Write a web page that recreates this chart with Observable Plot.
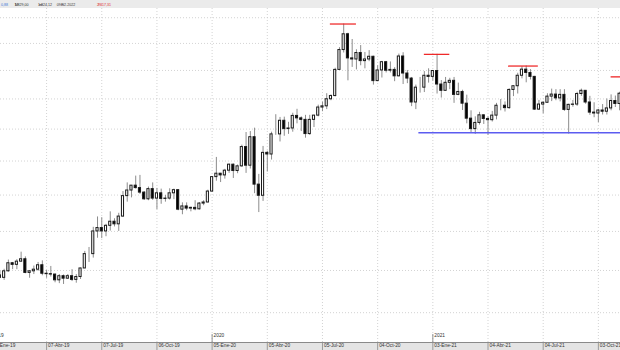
<!DOCTYPE html>
<html><head><meta charset="utf-8">
<script src="https://cdn.jsdelivr.net/npm/d3@7"></script>
<script src="https://cdn.jsdelivr.net/npm/@observablehq/plot@0.6"></script>
<style>html,body{margin:0;padding:0;background:#fff;overflow:hidden}svg{display:block}</style>
</head><body><div id="chart"></div>
<script>
// Weekly bars, first bar closes Friday 2019-01-18
const firstWeek = "2019-01-18";
const open = [1288,1282,1298,1318,1314,1322,1328,1294,1298,1302,1313,1292,1291,1290,1276,1286,1280,1286,1277,1284,
1305,1341,1341,1400,1409,1400,1415,1426,1419,1440,1497,1513,1527,1520,1507,1488,1517,1490,1505,1489,
1490,1505,1514,1459,1468,1462,1464,1460,1476,1479,
1510,1552,1562,1557,1571,1589,1570,1584,1643,1586,1674,1530,1498,1625,1620,1683,1683,1727,1700,1702,
1743,1735,1730,1684,1730,1744,1771,1775,1799,1810,1902,1975,2035,1944,1940,1964,1934,1940,1950,1862,
1900,1930,1899,1902,1879,1951,1889,1871,1788,1839,1839,1881,
1877,1898,1850,1828,1856,1863,1814,1824,1784,1734,1700,1720,1745,1733,1729,1744,1777,1777,1769,1831,
1844,1881,1903,1891,1877,1764,1781,1787,1808,1815,1802,1814,1763,1780,1781,1817,1828,1788,1754,1751,
1761,1757,1768,1793,1783];
const high = [1298,1303,1326,1320,1327,1346,1334,1300,1311,1320,1324,1300,1310,1291,1290,1289,1290,1302,1290,1306,
1348,1358,1411,1439,1437,1419,1453,1434,1449,1510,1535,1527,1555,1557,1510,1523,1535,1519,1517,1499,
1518,1517,1514,1478,1478,1466,1484,1479,1484,1514,
1553,1611,1563,1575,1591,1591,1588,1649,1689,1692,1703,1560,1645,1630,1690,1747,1738,1739,1722,1752,
1765,1740,1745,1745,1745,1779,1789,1818,1814,1908,1984,2075,2039,2015,1976,1992,1966,1973,1952,1917,
1933,1933,1931,1910,1960,1965,1900,1875,1848,1875,1896,1906,
1900,1959,1864,1875,1872,1875,1855,1830,1813,1760,1740,1755,1746,1740,1758,1785,1798,1790,1835,1846,
1890,1913,1916,1903,1879,1795,1790,1818,1834,1832,1832,1832,1782,1795,1823,1834,1829,1809,1787,1765,
1781,1800,1814,1810,1823];
const low = [1280,1276,1296,1302,1302,1320,1292,1281,1290,1298,1287,1281,1284,1270,1268,1266,1278,1273,1269,1278,
1305,1320,1331,1382,1381,1386,1401,1412,1400,1438,1480,1492,1517,1502,1485,1484,1485,1459,1474,1480,
1486,1487,1456,1445,1456,1453,1456,1458,1470,1478,
1508,1540,1536,1546,1563,1548,1562,1581,1563,1576,1504,1451,1482,1567,1603,1680,1659,1677,1683,1690,
1717,1692,1671,1680,1705,1740,1757,1764,1794,1807,1900,1964,1863,1911,1902,1917,1906,1932,1848,1860,
1873,1891,1891,1860,1877,1850,1853,1774,1764,1820,1822,1855,
1862,1817,1803,1826,1832,1785,1811,1761,1717,1687,1683,1713,1715,1680,1723,1730,1760,1756,1765,1808,
1817,1870,1856,1866,1761,1761,1750,1786,1791,1794,1790,1758,1684,1772,1775,1809,1782,1745,1737,1721,
1746,1746,1760,1771,1760];
const close = [1282,1298,1318,1314,1322,1328,1294,1298,1302,1313,1292,1291,1290,1276,1286,1280,1286,1277,1284,1305,
1341,1341,1400,1409,1400,1415,1426,1419,1440,1497,1513,1527,1520,1507,1488,1517,1490,1505,1489,1490,
1505,1514,1459,1468,1462,1464,1460,1476,1479,1510,
1552,1562,1557,1571,1589,1570,1584,1643,1586,1674,1530,1498,1625,1620,1683,1683,1727,1700,1702,1743,
1735,1730,1684,1730,1744,1771,1775,1799,1810,1902,1975,2035,1944,1940,1964,1934,1940,1950,1862,1900,
1930,1899,1902,1879,1951,1889,1871,1788,1839,1839,1881,1877,
1898,1850,1828,1856,1863,1814,1824,1784,1734,1700,1720,1745,1733,1729,1744,1777,1777,1769,1831,1844,
1881,1903,1891,1877,1764,1781,1787,1808,1815,1802,1814,1763,1780,1781,1817,1828,1788,1754,1751,1761,
1757,1768,1793,1783,1818];

// Date axis ticks (quarterly) and labels
const tickDates = ["2019-01-06","2019-04-07","2019-07-07","2019-10-06","2020-01-05","2020-04-05",
                   "2020-07-05","2020-10-04","2021-01-03","2021-04-04","2021-07-04","2021-10-03"];
const tickLabels = ["06-Ene-19","07-Abr-19","07-Jul-19","06-Oct-19","05-Ene-20","05-Abr-20",
                    "05-Jul-20","04-Oct-20","03-Ene-21","04-Abr-21","04-Jul-21","03-Oct-21"];
const yearTicks = ["2019-01-06","2020-01-05","2021-01-03"];
const yearLabels = ["2019","2020","2021"];
const gridPrices = [1200,1300,1400,1500,1600,1700,1800,1900,2000,2100];

// Resistance (red) and support (blue) levels
const resistPrice = [2075,1959,1916,1877];
const resistStart = ["2020-07-18","2020-12-20","2021-05-08","2021-10-24"];
const resistEnd   = ["2020-08-30","2021-01-31","2021-06-26","2021-12-15"];
const supportPrice = [1688];
const supportStart = ["2020-12-11"];
const supportEnd = ["2021-12-15"];

// Header values (status line): label, value, label colour, value colour
const headerLabels = ["A:", "M:", "m:", "F:", "P:"];
const headerValues = ["0,88", "1.829,00", "1.824,12", "09-02-2022", "2.417,31"];
const headerLabelColors = ["#333", "#333", "#333", "#333", "#e03030"];
const headerValueColors = ["#3a78d8", "#333", "#333", "#333", "#e03030"];

const D = s => new Date(s + "T00:00:00Z");
const start = D(firstWeek);
const bars = open.map((o, i) => ({
  date: d3.utcDay.offset(start, 7 * i + 2),
  open: o, high: high[i], low: low[i], close: close[i]
}));
const ticks = tickDates.map((d, i) => ({date: D(d), label: tickLabels[i]}));
const years = yearTicks.map((d, i) => ({date: D(d), label: yearLabels[i]}));
const resist = resistPrice.map((p, i) => ({p, x1: D(resistStart[i]), x2: D(resistEnd[i])}));
const support = supportPrice.map((p, i) => ({p, x1: D(supportStart[i]), x2: D(supportEnd[i])}));

const font = "'Liberation Sans', Arial, sans-serif";
const chart = Plot.plot({
  width: 620, height: 350,
  marginTop: 8, marginBottom: 8, marginLeft: 0, marginRight: 0,
  style: {fontFamily: font, background: "#fff", overflow: "hidden"},
  x: {type: "utc", domain: [D("2019-01-21"), new Date("2021-11-08T12:00:00Z")], axis: null},
  y: {type: "log", domain: [1134, 2137], axis: null},
  marks: [
    Plot.ruleY(gridPrices, {y: d => d, stroke: "#c8c8c8", strokeWidth: 0.8, strokeDasharray: "1,2"}),
    Plot.ruleX(ticks, {x: "date", stroke: "#c8c8c8", strokeWidth: 0.8, strokeDasharray: "1,2"}),
    Plot.ruleX(bars, {x: "date", y1: "low", y2: "high", stroke: "#8c8c8c", strokeWidth: 1}),
    Plot.rect(bars, {
      x1: d => d3.utcHour.offset(d.date, -42), x2: d => d3.utcHour.offset(d.date, 42),
      y1: "open", y2: "close",
      fill: d => d.close >= d.open ? "#fff" : "#000",
      stroke: "#1a1a1a", strokeWidth: 1
    }),
    Plot.ruleY(resist, {y: "p", x1: "x1", x2: "x2", stroke: "#ee1c1c", strokeWidth: 1.2}),
    Plot.ruleY(support, {y: "p", x1: "x1", x2: "x2", stroke: "#5c5cf0", strokeWidth: 1.6}),
    Plot.ruleX(years, {x: "date", insetTop: 326, stroke: "#777", strokeWidth: 0.8}),
    Plot.ruleX(ticks, {x: "date", insetTop: 334, insetBottom: -8, stroke: "#888", strokeWidth: 0.8}),
    Plot.text(years, {x: "date", text: "label", frameAnchor: "bottom", dy: -6, dx: 1.5,
      textAnchor: "start", fontSize: 4.8, fill: "#333"}),
    Plot.text(ticks, {x: "date", text: "label", frameAnchor: "bottom", dy: 4.6, dx: 1.5,
      textAnchor: "start", fontSize: 4.8, fill: "#333"})
  ]
});

document.getElementById("chart").appendChild(chart);

const svg = d3.select(chart);
// bottom date strip and axis line, header bar
const first = chart.firstChild;
svg.insert("rect", () => first).attr("x", 0).attr("y", 342).attr("width", 620).attr("height", 8).attr("fill", "#e4e4e4");
svg.insert("rect", () => first).attr("x", 0).attr("y", 0).attr("width", 620).attr("height", 8).attr("fill", "#ebebeb");
svg.append("line").attr("x1", 0).attr("x2", 620).attr("y1", 342.5).attr("y2", 342.5).attr("stroke", "#8a8a8a").attr("stroke-width", 1);
// header status line: one text per label/value pair at fixed layout positions
const labelX = [-2, 17, 41, 62.5, 100];
const valueX = [4.5, 21.5, 45, 66, 104];
const hdr = svg.append("g").attr("font-family", font).attr("font-size", 3.6);
headerLabels.forEach((lab, i) => {
  const t = hdr.append("text").attr("x", labelX[i]).attr("y", 6);
  t.append("tspan").attr("fill", headerLabelColors[i]).text(lab);
  t.append("tspan").attr("x", valueX[i]).attr("fill", headerValueColors[i]).text(headerValues[i]);
});
</script>
</body></html>
